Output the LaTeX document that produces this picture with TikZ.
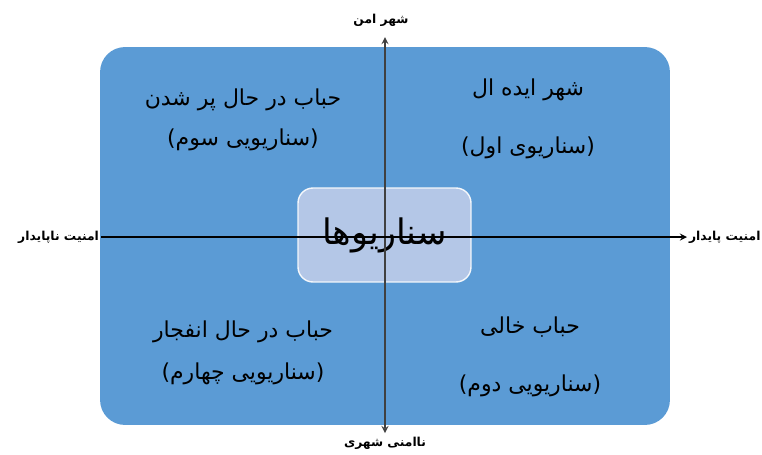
\documentclass[tikz,border=0pt]{standalone}
\usepackage{fontspec}
\newfontfamily\arabicfont[Script=Arabic]{DejaVu Sans}
\newfontfamily\parenfont{DejaVu Sans}
\TeXXeTstate=1
\usetikzlibrary{positioning}
\definecolor{boxblue}{HTML}{5B9BD5}
\definecolor{paleblue}{HTML}{B4C7E7}

\begin{document}
\begin{tikzpicture}[x=0.02cm, y=-0.02cm,
    quadtext/.style={font=\arabicfont\fontsize{12.5}{15}\selectfont, align=center, inner sep=0pt},
    axislabel/.style={font=\arabicfont\bfseries\fontsize{7}{9}\selectfont, inner sep=1pt},
    axisline/.style={black, line width=0.8pt, >=stealth}]
    \useasboundingbox (0,0) rectangle (762,454);

    \node [fill=boxblue, rounded corners=0.5cm, minimum width=11.4cm, minimum height=7.56cm] (board) at (385,236) {};
    \node [fill=paleblue, draw=white!85!paleblue, line width=0.8pt, rounded corners=0.3cm,
        minimum width=3.46cm, minimum height=1.88cm, font=\arabicfont\fontsize{20}{24}\selectfont] (center) at (384.5,235) {\beginR سناریوها\endR};

    \node [quadtext] (third) at (243,120) {\beginR حباب در حال پر شدن\endR\\[2.6mm] \hbox{\parenfont(}\beginR سناریویی سوم\endR\hbox{\parenfont)}};
    \node [quadtext] (first) at (528,119) {\beginR شهر ایده ال\endR\\[6.4mm] \hbox{\parenfont(}\beginR سناریوی اول\endR\hbox{\parenfont)}};
    \node [quadtext] (fourth) at (243,353) {\beginR حباب در حال انفجار\endR\\[3.2mm] \hbox{\parenfont(}\beginR سناریویی چهارم\endR\hbox{\parenfont)}};
    \node [quadtext] (second) at (530,357) {\beginR حباب خالی\endR\\[6.3mm] \hbox{\parenfont(}\beginR سناریویی دوم\endR\hbox{\parenfont)}};

    \node [axislabel] (safe) at (381,20) {\beginR شهر امن\endR};
    \node [axislabel] (unsafe) at (385,443) {\beginR ناامنی شهری\endR};
    \node [axislabel, anchor=east] (unstable) at (101,237) {\beginR امنیت ناپایدار\endR};
    \node [axislabel, anchor=west] (stable) at (687,237) {\beginR امنیت پایدار\endR};

    \coordinate (vtop) at (385,37);
    \coordinate (vbottom) at (385,433);
    \draw [axisline, black!75, <->] (vtop) -- (vbottom);
    \draw [axisline, ->] (unstable.east) -- (unstable.east -| stable.west);
\end{tikzpicture}
\end{document}
